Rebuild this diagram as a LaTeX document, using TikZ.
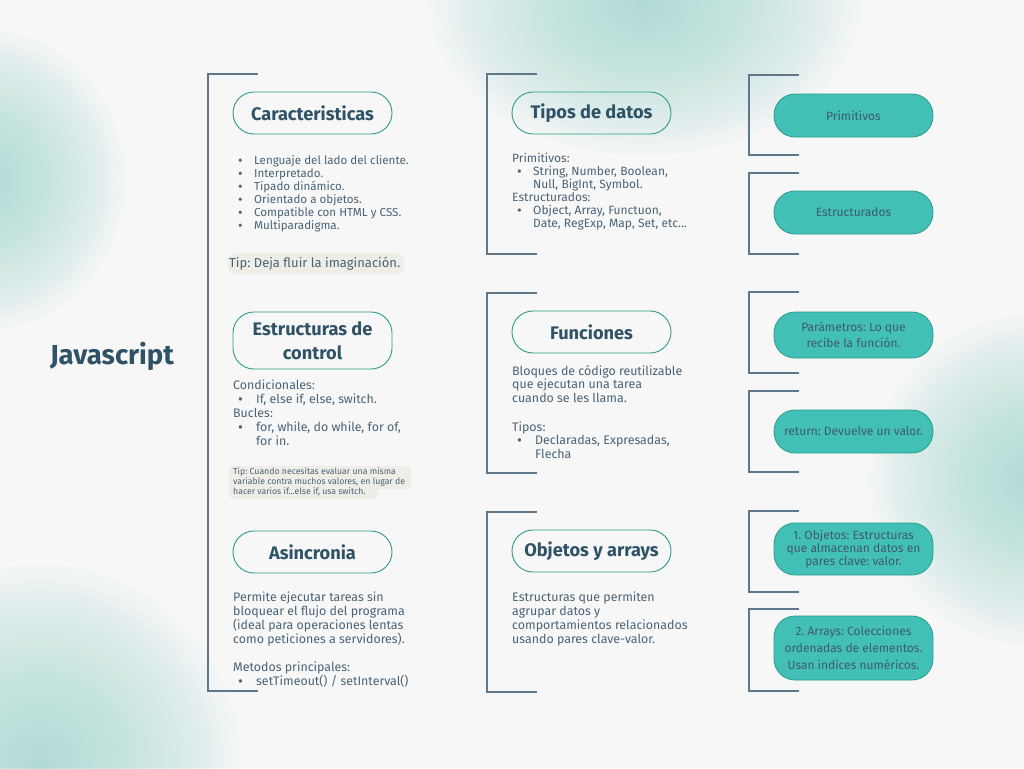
\documentclass[tikz,border=0pt]{standalone}
\usepackage{fontspec}
\setmainfont{Fira Sans}
\definecolor{bg}{HTML}{F7F7F7}
\definecolor{blob}{HTML}{9ED8CE}
\definecolor{brk}{HTML}{5E7889}
\definecolor{pillb}{HTML}{2E9E82}
\definecolor{ttl}{HTML}{2F5266}
\definecolor{btxt}{HTML}{4A6376}
\definecolor{teal1}{HTML}{42C0B6}
\definecolor{teal2}{HTML}{2A9C8C}
\definecolor{ptxt}{HTML}{3E5A6C}
\definecolor{tipbg}{HTML}{EEEDE6}
\newcommand{\bul}[1]{\makebox[#1][l]{\hspace{5pt}\raisebox{-0.5pt}{\scalebox{1.2}{\textbullet}}}}
\newcommand{\ind}[1]{\hspace*{#1}}
\newcommand{\softblob}[4]{\foreach \k in {1,...,24}{\fill[blob, opacity=0.047] (#1,#2) ellipse ({#3*\k/24} and {#4*\k/24});}}
\begin{document}
\frenchspacing
\begin{tikzpicture}[x=1pt,y=-1pt,
  bracket/.style={draw=brk, line width=1.3pt},
  pillO/.style={draw=pillb, line width=0.9pt, rounded corners=21pt, minimum width=159pt, minimum height=42pt, font=\bfseries\fontsize{18.2}{24}\selectfont, text=ttl, align=center, inner sep=0pt},
  pillF/.style={fill=teal1, draw=teal2, line width=0.8pt, rounded corners=21pt, minimum width=159pt, minimum height=43pt, font=\fontsize{12}{16}\selectfont, text=ptxt, align=center, inner sep=0pt},
  body/.style={anchor=north west, inner sep=0pt, align=left, text=btxt},
  tiptext/.style={anchor=west, inner xsep=1pt, inner ysep=0pt, align=left, text=btxt}
]
\useasboundingbox (0,0) rectangle (1024,768);
\fill[bg] (0,0) rectangle (1024,768);
\begin{scope}
\clip (0,0) rectangle (1024,768);
\softblob{645}{5}{215}{150}
\softblob{-15}{180}{140}{150}
\softblob{40}{765}{200}{200}
\softblob{1035}{480}{165}{165}
\end{scope}

% title
\node[font=\bfseries\fontsize{27.5}{32}\selectfont, text=ttl, inner sep=0pt] (js) at (112,356) {Javascript};

% brackets
\draw[bracket] (258,74) -- (208,74) -- (208,691) -- (258,691);
\draw[bracket] (537,74) -- (487,74) -- (487,254) -- (537,254);
\draw[bracket] (537,293) -- (487,293) -- (487,473) -- (537,473);
\draw[bracket] (537,512) -- (487,512) -- (487,692) -- (537,692);
\draw[bracket] (799,75) -- (749,75) -- (749,155) -- (799,155);
\draw[bracket] (799,173) -- (749,173) -- (749,254) -- (799,254);
\draw[bracket] (799,292) -- (749,292) -- (749,373) -- (799,373);
\draw[bracket] (799,391) -- (749,391) -- (749,472) -- (799,472);
\draw[bracket] (799,511) -- (749,511) -- (749,592) -- (799,592);
\draw[bracket] (799,609) -- (749,609) -- (749,691) -- (799,691);

% outlined pills
\node[pillO] (car) at (312.5,113) {Caracteristicas};
\node[pillO, minimum height=57pt] (est) at (312.5,340.5) {Estructuras de\\control};
\node[pillO] (asi) at (312.5,552) {Asincronia};
\node[pillO] (tip) at (591.5,113) {Tipos de datos};
\node[pillO] (fun) at (591.5,332) {Funciones};
\node[pillO] (obj) at (591.5,551) {Objetos y arrays};

% filled pills
\node[pillF] (pri) at (853.5,115.5) {Primitivos};
\node[pillF] (estr) at (853.5,212.5) {Estructurados};
\node[pillF, minimum height=46pt] (par) at (853.5,335) {Parámetros: Lo que\\recibe la función.};
\node[pillF] (ret) at (853.5,431.5) {return: Devuelve un valor.};
\node[pillF, minimum height=52pt, font=\fontsize{12}{13}\selectfont] (oo) at (853.5,549) {1. Objetos: Estructuras\\que almacenan datos en\\pares clave: valor.};
\node[pillF, minimum height=64pt, font=\fontsize{12}{17}\selectfont] (ar) at (853.5,648) {2. Arrays: Colecciones\\ordenadas de elementos.\\Usan indices numéricos.};

% body texts
\node[body, font=\fontsize{11.6}{13}\selectfont] (carT) at (233,155.5) {\bul{21pt}Lenguaje del lado del cliente.\\\bul{21pt}Interpretado.\\\bul{21pt}Tipado dinámico.\\\bul{21pt}Orientado a objetos.\\\bul{21pt}Compatible con HTML y CSS.\\\bul{21pt}Multiparadigma.};
\fill[tipbg, rounded corners=8pt] (228,253) rectangle (404,274);
\node[tiptext, font=\fontsize{13}{14}\selectfont] (tip1) at (228,264) {Tip: Deja fluir la imaginación.};

\node[body, font=\fontsize{12.4}{14}\selectfont] (estT) at (233,380) {Condicionales:\\\bul{23pt}If, else if, else, switch.\\Bucles:\\\bul{23pt}for, while, do while, for of,\\\ind{23pt}for in.};
\fill[tipbg, rounded corners=5pt] (229,466) rectangle (411,489);
\fill[tipbg, rounded corners=5pt] (229,484) rectangle (378,499);
\node[body, font=\fontsize{8.7}{10}\selectfont] (tip2) at (233,468) {Tip: Cuando necesitas evaluar una misma\\variable contra muchos valores, en lugar de\\hacer varios if...else if, usa switch.};

\node[body, font=\fontsize{12.4}{14}\selectfont] (asiT) at (233,592) {Permite ejecutar tareas sin\\bloquear el flujo del programa\\(ideal para operaciones lentas\\como peticiones a servidores).\\[14pt]Metodos principales:\\\bul{23pt}setTimeout() / setInterval()};

\node[body, font=\fontsize{12}{13}\selectfont] (tipT) at (512,153) {Primitivos:\\\bul{21pt}String, Number, Boolean,\\\ind{21pt}Null, BigInt, Symbol.\\Estructurados:\\\bul{21pt}Object, Array, Functuon,\\\ind{21pt}Date, RegExp, Map, Set, etc...};

\node[body, font=\fontsize{12.4}{13.8}\selectfont] (funT) at (512,365) {Bloques de código reutilizable\\que ejecutan una tarea\\cuando se les llama.\\[14.5pt]Tipos:\\\bul{23pt}Declaradas, Expresadas,\\\ind{23pt}Flecha};

\node[body, font=\fontsize{12.4}{14}\selectfont] (objT) at (512,592) {Estructuras que permiten\\agrupar datos y\\comportamientos relacionados\\usando pares clave-valor.};
\end{tikzpicture}
\end{document}
